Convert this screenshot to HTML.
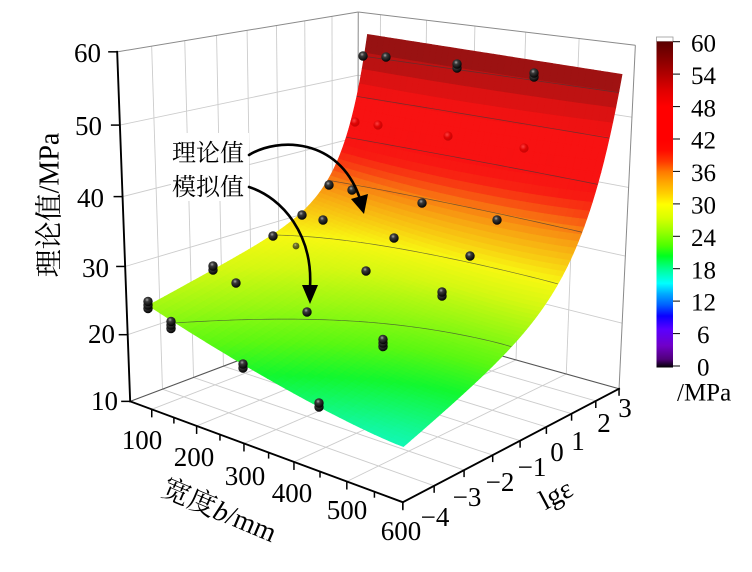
<!DOCTYPE html>
<html><head><meta charset="utf-8"><style>
html,body{margin:0;padding:0;background:#fff;}
svg{display:block;}
text{font-family:"Liberation Serif","Noto Serif CJK SC",serif;fill:#000;}
</style></head><body>
<svg id="s" width="752" height="572" viewBox="0 0 752 572" xmlns="http://www.w3.org/2000/svg">
<defs>
<radialGradient id="ball" cx="0.4" cy="0.33" r="0.7">
<stop offset="0" stop-color="#a8a8a8"/><stop offset="0.3" stop-color="#3a3a3a"/><stop offset="1" stop-color="#000"/>
</radialGradient>
<radialGradient id="rball" cx="0.4" cy="0.35" r="0.7">
<stop offset="0" stop-color="#ff5050"/><stop offset="0.5" stop-color="#d80000"/><stop offset="1" stop-color="#b00000"/>
</radialGradient>
<linearGradient id="cb" x1="0" y1="1" x2="0" y2="0">
<stop offset="0" stop-color="#000000"/>
<stop offset="0.025" stop-color="#50007a"/>
<stop offset="0.067" stop-color="#7000c8"/>
<stop offset="0.117" stop-color="#5a00ff"/>
<stop offset="0.158" stop-color="#0a00ff"/>
<stop offset="0.192" stop-color="#0060ff"/>
<stop offset="0.225" stop-color="#00a8ff"/>
<stop offset="0.258" stop-color="#00ffff"/>
<stop offset="0.3" stop-color="#00ff99"/>
<stop offset="0.342" stop-color="#00ff20"/>
<stop offset="0.375" stop-color="#50ff00"/>
<stop offset="0.417" stop-color="#99ff00"/>
<stop offset="0.458" stop-color="#d8ff00"/>
<stop offset="0.5" stop-color="#ffff00"/>
<stop offset="0.533" stop-color="#ffd000"/>
<stop offset="0.567" stop-color="#ffa800"/>
<stop offset="0.6" stop-color="#ff7a00"/>
<stop offset="0.633" stop-color="#ff3800"/>
<stop offset="0.667" stop-color="#ff0a00"/>
<stop offset="0.7" stop-color="#ff0000"/>
<stop offset="0.8" stop-color="#ff0000"/>
<stop offset="0.85" stop-color="#e00000"/>
<stop offset="0.9" stop-color="#b00000"/>
<stop offset="0.95" stop-color="#840000"/>
<stop offset="1" stop-color="#5a0000"/>
</linearGradient>
</defs>
<g id="grid" stroke="#cccccc" stroke-width="0.9" fill="none"></g>
<g id="frame" fill="none"></g>
<rect x="171" y="133" width="78" height="68" fill="#fff"/>
<text x="172" y="161" font-size="24" font-family="Noto Serif CJK SC, serif">理论值</text>
<text x="172" y="195" font-size="24" font-family="Noto Serif CJK SC, serif">模拟值</text>
<g id="surf"></g>
<g id="cont" stroke="#3a3a3a" stroke-width="0.7" stroke-opacity="0.7" fill="none"></g>
<g id="pts"></g>
<g fill="none" stroke="#000" stroke-width="2.6" stroke-linecap="round">
<path d="M249,155 C278,137 338,138 359,196"/>
<path d="M249,187 C283,198 313,235 310,287"/>
</g>
<polygon points="351,199 368,194 364,214" fill="#000"/>
<polygon points="302,285 318,285 310,304" fill="#000"/>
<g id="axes"></g>

<g font-size="27" text-anchor="end" dominant-baseline="central">
<text x="101" y="53">60</text>
<text x="102" y="126">50</text>
<text x="104" y="198">40</text>
<text x="109" y="268">30</text>
<text x="115" y="334">20</text>
<text x="118" y="401">10</text>
</g>
<g font-size="27" text-anchor="middle" dominant-baseline="central">
<text x="142" y="440">100</text>
<text x="194" y="457">200</text>
<text x="245" y="476">300</text>
<text x="292" y="493">400</text>
<text x="347" y="510">500</text>
<text x="401" y="531">600</text>
</g>
<g font-size="27" text-anchor="middle" dominant-baseline="central">
<text x="435" y="517">−4</text>
<text x="467" y="497">−3</text>
<text x="500" y="482">−2</text>
<text x="532" y="467">−1</text>
<text x="557" y="452">0</text>
<text x="578" y="441">1</text>
<text x="604" y="423">2</text>
<text x="625" y="408">3</text>
</g>
<text transform="translate(50,205) rotate(-90)" font-size="28" text-anchor="middle" dominant-baseline="central">理论值/MPa</text>
<text transform="translate(219,511) rotate(23)" font-size="28" text-anchor="middle" dominant-baseline="central">宽度<tspan font-style="italic">b</tspan>/mm</text>
<text transform="translate(556,495) rotate(-28)" font-size="28" text-anchor="middle" dominant-baseline="central">lgε</text>

<rect x="656.5" y="37" width="16.5" height="4.5" fill="#fff" stroke="#999" stroke-width="0.8"/>
<rect x="656.5" y="41.5" width="16.5" height="326" fill="url(#cb)"/>
<g stroke="#000" stroke-width="1">
<line x1="673" y1="41.7" x2="680" y2="41.7"/>
<line x1="673" y1="74.1" x2="680" y2="74.1"/>
<line x1="673" y1="106.6" x2="680" y2="106.6"/>
<line x1="673" y1="139" x2="680" y2="139"/>
<line x1="673" y1="171.4" x2="680" y2="171.4"/>
<line x1="673" y1="203.9" x2="680" y2="203.9"/>
<line x1="673" y1="236.3" x2="680" y2="236.3"/>
<line x1="673" y1="268.7" x2="680" y2="268.7"/>
<line x1="673" y1="301.1" x2="680" y2="301.1"/>
<line x1="673" y1="333.6" x2="680" y2="333.6"/>
<line x1="673" y1="366" x2="680" y2="366"/>
</g>
<g font-size="25" dominant-baseline="central">
<text x="691" y="44">60</text>
<text x="691" y="76.5">54</text>
<text x="691" y="109">48</text>
<text x="691" y="141">42</text>
<text x="691" y="173.5">36</text>
<text x="691" y="206">30</text>
<text x="691" y="238.5">24</text>
<text x="691" y="271">18</text>
<text x="691" y="303">12</text>
<text x="697" y="335.5">6</text>
<text x="697" y="368">0</text>
<text x="677" y="393">/MPa</text>
</g>
</svg>
<script>
(function(){
var NS="http://www.w3.org/2000/svg";
var P=[
 [0,0,0,130,401],[1,0,0,403,502],[1,1,0,618,387],[0,1,0,357,316],
 [0,0,1,117,52],[0,1,1,359,12],[1,1,1,635,45],
 [50/550,0,0,152,409.5],[250/550,0,0,245,444],[450/550,0,0,347,482],
 [1,1/8,0,433,485],[1,4/8,0,520,442],[1,5/8,0,547,427],[1,7/8,0,597,402],
 [0,0,0.8,119.7,125],[0,0,0.6,122.4,197],[0,0,0.4,125,267],[0,0,0.2,127.5,333]
];
function fit(){
  var n=11,A=[],i,j,k;
  for(i=0;i<n;i++){A.push([]);for(j=0;j<=n;j++)A[i].push(0);}
  function add(r,v){for(var i=0;i<n;i++){for(var j=0;j<n;j++)A[i][j]+=r[i]*r[j];A[i][n]+=r[i]*v;}}
  P.forEach(function(p){
    var X=p[0],Y=p[1],Z=p[2],xs=p[3]/100,ys=p[4]/100;
    add([X,Y,Z,1,0,0,0,0,-xs*X,-xs*Y,-xs*Z],xs);
    add([0,0,0,0,X,Y,Z,1,-ys*X,-ys*Y,-ys*Z],ys);
  });
  for(i=0;i<n;i++){
    var piv=i;for(k=i+1;k<n;k++)if(Math.abs(A[k][i])>Math.abs(A[piv][i]))piv=k;
    var t=A[i];A[i]=A[piv];A[piv]=t;
    for(k=0;k<n;k++){if(k===i)continue;var f=A[k][i]/A[i][i];for(j=i;j<=n;j++)A[k][j]-=f*A[i][j];}
  }
  var r=[];for(i=0;i<n;i++)r.push(A[i][n]/A[i][i]);return r;
}
var p=fit();
function prj(X,Y,Z){var d=p[8]*X+p[9]*Y+p[10]*Z+1;return [100*(p[0]*X+p[1]*Y+p[2]*Z+p[3])/d,100*(p[4]*X+p[5]*Y+p[6]*Z+p[7])/d,d];}
function U(b){return (b-50)/550;} function V(e){return (e+5)/8;} function W(z){return (z-10)/50;}
function P3(b,e,z){return prj(U(b),V(e),W(z));}
function line(g,a,b,attrs){var l=document.createElementNS(NS,"line");l.setAttribute("x1",a[0].toFixed(2));l.setAttribute("y1",a[1].toFixed(2));l.setAttribute("x2",b[0].toFixed(2));l.setAttribute("y2",b[1].toFixed(2));if(attrs)for(var k in attrs)l.setAttribute(k,attrs[k]);g.appendChild(l);}
var grid=document.getElementById("grid"),frame=document.getElementById("frame"),axes=document.getElementById("axes");
var e,b,z;
for(e=-4;e<=2;e++){line(grid,P3(50,e,10),P3(50,e,60));line(grid,P3(50,e,10),P3(600,e,10));}
for(z=20;z<=50;z+=10){line(grid,P3(50,-5,z),P3(50,3,z));line(grid,P3(50,3,z),P3(600,3,z));}
for(b=100;b<=500;b+=100){line(grid,P3(b,3,10),P3(b,3,60));line(grid,P3(b,-5,10),P3(b,3,10));}
var fa={stroke:"#8a8a8a","stroke-width":"1"};
line(frame,P3(50,-5,60),P3(50,3,60),fa);line(frame,P3(50,3,60),P3(600,3,60),fa);
line(frame,P3(50,3,10),P3(50,3,60),fa);line(frame,P3(600,3,10),P3(600,3,60),fa);
var fb={stroke:"#555","stroke-width":"1.1"};
line(frame,P3(50,-5,10),P3(50,3,10),fb);line(frame,P3(50,3,10),P3(600,3,10),fb);
function zf(b,e){
  var t=(b-100)/500;
  var base=17.3+8*Math.pow(1-t,1.4);
  var top=57.3-0.9*t;
  var k=1.15-0.35*t, a=0.25+0.05*t;
  var g=a*(e+5)/7.5+(1-a)*(Math.exp(k*(e+5))-1)/(Math.exp(7.5*k)-1);
  return base+(top-base)*g;
}
var S=[[0,"#000000"],[1.5,"#50007a"],[4,"#7000c8"],[7,"#5a00ff"],[9.5,"#0a00ff"],[11.5,"#0060ff"],[13.5,"#00a8ff"],[15.5,"#00ffff"],[18,"#00ff99"],[20.5,"#00ff20"],[22.5,"#50ff00"],[25,"#99ff00"],[27.5,"#d8ff00"],[30,"#ffff00"],[32,"#ffd000"],[34,"#ffa800"],[36,"#ff7a00"],[38,"#ff3800"],[40,"#ff0a00"],[42,"#ff0000"],[48,"#ff0000"],[51,"#e00000"],[54,"#b00000"],[57,"#840000"],[60,"#5a0000"]];
function hx(h){return [parseInt(h.substr(1,2),16),parseInt(h.substr(3,2),16),parseInt(h.substr(5,2),16)];}
S=S.map(function(s){return [s[0],hx(s[1])];});
function col(v){
  if(v<=0)v=0;if(v>=60)v=60;
  for(var i=0;i<S.length-1;i++){if(v<=S[i+1][0]){var t=(v-S[i][0])/(S[i+1][0]-S[i][0]);var c=[0,1,2].map(function(j){return Math.round((S[i][1][j]*(1-t)+S[i+1][1][j]*t)*0.9+18);});return "rgb("+c.join(",")+")";}}
  return "rgb(99,18,18)";
}
var NB=40,NE=75,b0=100,b1=600,e0=-5,e1=2.5;
var G=[],Z=[];
for(var i=0;i<=NB;i++){G.push([]);Z.push([]);for(var j=0;j<=NE;j++){var bb=b0+(b1-b0)*i/NB,ee=e0+(e1-e0)*j/NE,zz=zf(bb,ee);Z[i].push(zz);G[i].push(P3(bb,ee,zz));}}
var dFront=prj(1,0,0)[2],dBack=prj(0,1,0)[2],sgn=dBack>dFront?-1:1;
var Q=[];
for(i=0;i<NB;i++)for(j=0;j<NE;j++){
  var a=G[i][j],bq=G[i+1][j],c=G[i+1][j+1],d=G[i][j+1];
  Q.push({pts:[a,bq,c,d],d:(a[2]+bq[2]+c[2]+d[2])/4,z:(Z[i][j]+Z[i+1][j]+Z[i+1][j+1]+Z[i][j+1])/4});
}
Q.sort(function(x,y){return sgn*(x.d-y.d);});
var surf=document.getElementById("surf"),frag=document.createDocumentFragment();
Q.forEach(function(q){var pg=document.createElementNS(NS,"polygon");var cc=col(q.z);pg.setAttribute("points",q.pts.map(function(pp){return pp[0].toFixed(2)+","+pp[1].toFixed(2);}).join(" "));pg.setAttribute("fill",cc);pg.setAttribute("stroke",cc);pg.setAttribute("stroke-width","0.6");frag.appendChild(pg);});
surf.appendChild(frag);
var cont=document.getElementById("cont");
[24,30,36,42,48,54].forEach(function(L){
  for(var i=0;i<NB;i++)for(var j=0;j<NE;j++){
    var c=[[i,j],[i+1,j],[i+1,j+1],[i,j+1]],X=[];
    for(var k=0;k<4;k++){var p1=c[k],p2=c[(k+1)%4];var z1=Z[p1[0]][p1[1]],z2=Z[p2[0]][p2[1]];
      if((z1-L)*(z2-L)<0){var t=(L-z1)/(z2-z1);var bi=p1[0]+(p2[0]-p1[0])*t,ej=p1[1]+(p2[1]-p1[1])*t;
        X.push(P3(b0+(b1-b0)*bi/NB,e0+(e1-e0)*ej/NE,L));}}
    if(X.length>=2)line(cont,X[0],X[1]);
    if(X.length===4)line(cont,X[2],X[3]);
  }
});
var pts=document.getElementById("pts");
var D=[[363,56,1],[386,57,1],[457,66,2],[534,75,2],
[355,122,0],[378,125,0],[448,136,0],[524,148,0],
[329,185,1],[352,190,1],[422,203,1],[497,220,1],
[302,215,1],[323,220,1],[394,238,1],[470,256,1],
[273,236,1],[296,246,-1],[366,271,1],[442,294,2],
[213,268,2],[236,283,1],[307,312,1],[383,343,3],
[148,305,3],[171,325,3],[243,366,2],[319,405,2]];
D.forEach(function(q){
  var n=q[2];
  if(n===0){var c=document.createElementNS(NS,"circle");c.setAttribute("cx",q[0]);c.setAttribute("cy",q[1]);c.setAttribute("r","4.6");c.setAttribute("fill","url(#rball)");c.setAttribute("opacity","0.75");pts.appendChild(c);return;}
  if(n===-1){var c2=document.createElementNS(NS,"circle");c2.setAttribute("cx",q[0]);c2.setAttribute("cy",q[1]);c2.setAttribute("r","3.4");c2.setAttribute("fill","url(#ball)");c2.setAttribute("opacity","0.7");pts.appendChild(c2);return;}
  var off=n===3?3.6:4;var y0=q[1]+off*(n-1)/2;
  for(var k=0;k<n;k++){var c3=document.createElementNS(NS,"circle");c3.setAttribute("cx",q[0]);c3.setAttribute("cy",(y0-k*off).toFixed(1));c3.setAttribute("r","4.7");c3.setAttribute("fill","url(#ball)");pts.appendChild(c3);}
});
var ax={stroke:"#000","stroke-width":"1.9","stroke-linecap":"square"};
line(axes,P3(50,-5,10),P3(50,-5,60),ax);
line(axes,P3(50,-5,10),P3(600,-5,10),ax);
line(axes,P3(600,-5,10),P3(600,3,10),ax);
var tk={stroke:"#000","stroke-width":"1.5"};
for(z=10;z<=60;z+=10){var q0=P3(50,-5,z);line(axes,q0,[q0[0]-9,q0[1]],tk);}
for(b=100;b<=600;b+=50){var q1=P3(b,-5,10);line(axes,q1,[q1[0],q1[1]+(b%100===0?8:6)],tk);}
for(e=-5;e<=3;e++){var q2=P3(600,e,10);line(axes,q2,[q2[0],q2[1]+7],tk);}
})();
</script>
</body></html>
